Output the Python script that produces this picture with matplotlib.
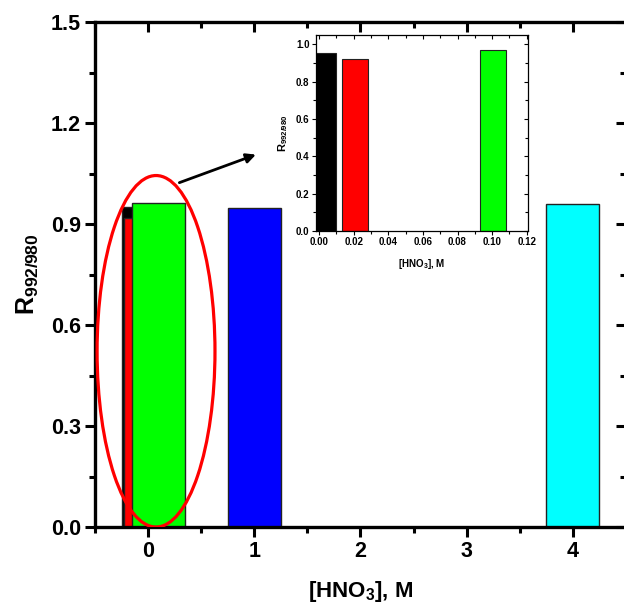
"""Bar chart of R992/980 against nitric acid concentration, with a zoomed inset."""

import matplotlib

matplotlib.use("Agg")
import matplotlib.pyplot as plt
from matplotlib.patches import Ellipse
from matplotlib.ticker import MultipleLocator

plt.rcParams["font.family"] = ["Liberation Sans", "DejaVu Sans"]
plt.rcParams["font.weight"] = "bold"
plt.rcParams["mathtext.fontset"] = "custom"
plt.rcParams["mathtext.rm"] = "Liberation Sans:bold"
plt.rcParams["mathtext.bf"] = "Liberation Sans:bold"

# main plot: concentration (M) and ratio
main_conc = [0.0, 0.02, 0.1, 1.0, 4.0]
main_ratio = [0.952, 0.917, 0.963, 0.948, 0.958]
bar_colors = ["#000000", "#ff0000", "#00ff00", "#0000ff", "#00ffff"]

# inset: low concentrations only
inset_conc = [0.0025, 0.0205, 0.1005]
inset_ratio = [0.956, 0.920, 0.968]
inset_colors = ["#000000", "#ff0000", "#00ff00"]

main_xticks = [0, 1, 2, 3, 4]
main_yticks = [0.0, 0.3, 0.6, 0.9, 1.2, 1.5]
inset_xticks = [0.00, 0.02, 0.04, 0.06, 0.08, 0.10, 0.12]
inset_yticks = [0.0, 0.2, 0.4, 0.6, 0.8, 1.0]

Y_LABEL = r"$\mathbf{R_{992/980}}$"
X_LABEL = r"[HNO$_{\mathbf{3}}$], M"


def mirror_ticks(ax, xminor, yminor, length, width, minor_length):
    """Add tick marks on top and right pointing into the plot."""
    top = ax.secondary_xaxis("top")
    top.set_xticks(ax.get_xticks())
    top.xaxis.set_minor_locator(MultipleLocator(xminor))
    top.tick_params(which="both", direction="in", labeltop=False, width=width)
    top.tick_params(which="major", length=length)
    top.tick_params(which="minor", length=minor_length)
    right = ax.secondary_yaxis("right")
    right.set_yticks(ax.get_yticks())
    right.yaxis.set_minor_locator(MultipleLocator(yminor))
    right.tick_params(which="both", direction="in", labelright=False, width=width)
    right.tick_params(which="major", length=length)
    right.tick_params(which="minor", length=minor_length)
    for sec in (top, right):
        for spine in sec.spines.values():
            spine.set_visible(False)


fig = plt.figure(figsize=(6.24, 6.08), dpi=100)
ax = fig.add_axes([0.1522, 0.1332, 0.851, 0.8306])

ax.bar(main_conc, main_ratio, width=0.5, color=bar_colors,
       edgecolor="#222222", linewidth=1.0, zorder=2)
ax.set_xlim(-0.5, 4.5)
ax.set_ylim(0, 1.5)
ax.set_xticks(main_xticks)
ax.set_yticks(main_yticks)
ax.set_yticklabels([f"{v:.1f}" for v in main_yticks])
ax.xaxis.set_minor_locator(MultipleLocator(0.5))
ax.yaxis.set_minor_locator(MultipleLocator(0.15))
ax.tick_params(which="both", direction="out", width=2.2, labelsize=15.5, pad=3)
ax.tick_params(which="major", length=7)
ax.tick_params(which="minor", length=4)
for spine in ax.spines.values():
    spine.set_linewidth(2.4)
mirror_ticks(ax, 0.5, 0.15, 7, 2.2, 4)
ax.set_xlabel(X_LABEL, fontsize=16, fontweight="bold", labelpad=12)
ax.set_ylabel(Y_LABEL, fontsize=18, labelpad=8)

# ring round the low concentration bars and arrow to the inset
ax.add_patch(Ellipse((0.075, 0.522), 1.11, 1.044, fill=False,
                     edgecolor="#ff0000", linewidth=2.3, zorder=4))
ax.annotate("", xy=(1.04, 1.109), xytext=(0.27, 1.02),
            arrowprops=dict(arrowstyle="-|>", color="black", lw=2.0,
                            mutation_scale=14))

inset = fig.add_axes([0.506, 0.620, 0.3397, 0.3224])
inset.bar(inset_conc, inset_ratio, width=0.015, color=inset_colors,
          edgecolor="#222222", linewidth=0.8)
inset.set_xlim(-0.002, 0.1206)
inset.set_ylim(0, 1.05)
inset.set_xticks(inset_xticks)
inset.set_xticklabels([f"{v:.2f}" for v in inset_xticks])
inset.set_yticks(inset_yticks)
inset.set_yticklabels([f"{v:.1f}" for v in inset_yticks])
inset.xaxis.set_minor_locator(MultipleLocator(0.01))
inset.yaxis.set_minor_locator(MultipleLocator(0.1))
inset.tick_params(which="both", direction="out", width=0.8, labelsize=7, pad=1.5)
inset.tick_params(which="major", length=3)
inset.tick_params(which="minor", length=2)
for spine in inset.spines.values():
    spine.set_linewidth(0.9)
mirror_ticks(inset, 0.01, 0.1, 3, 0.8, 2)
inset.set_xlabel(X_LABEL, fontsize=7, fontweight="bold", labelpad=7)
inset.set_ylabel(Y_LABEL, fontsize=8, labelpad=4)

fig.savefig("out.png", dpi=100)
